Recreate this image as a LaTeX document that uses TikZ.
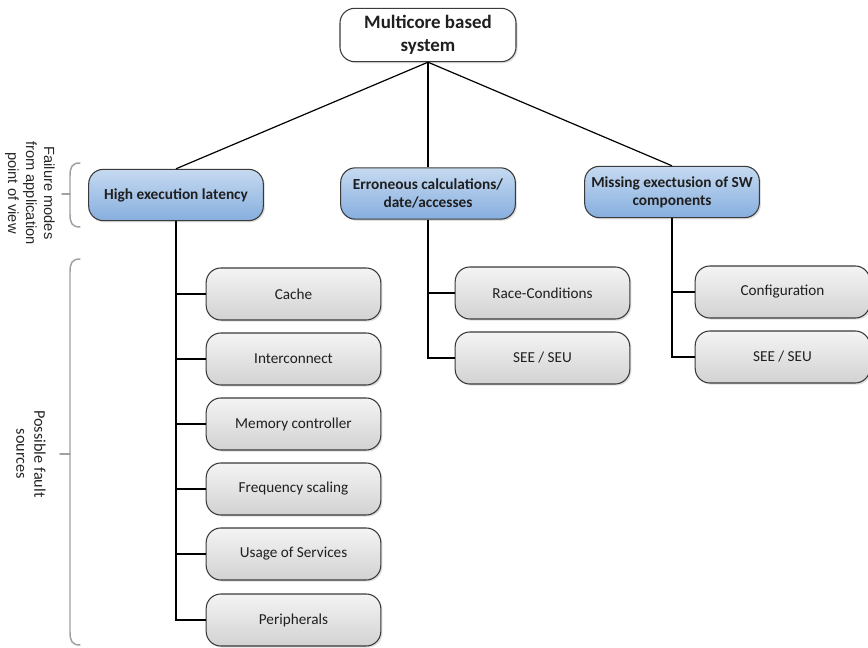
\documentclass[tikz,border=0pt]{standalone}
\usepackage{fontspec}
\setmainfont{Carlito}
\newfontfamily\sidefont{Liberation Sans}
\usetikzlibrary{shadows}
\definecolor{edgegray}{HTML}{3A3A3A}
\definecolor{bracegray}{HTML}{A0A0A0}
\definecolor{graytop}{HTML}{F4F4F4}
\definecolor{graybot}{HTML}{D2D2D2}
\definecolor{bluetop}{HTML}{C6DAF1}
\definecolor{bluebot}{HTML}{86AEDE}
\tikzset{
  box/.style={draw=edgegray, line width=0.8pt, rounded corners=11pt, align=center,
    inner sep=0pt, text=black!88, drop shadow={opacity=0.25, shadow xshift=1.2pt, shadow yshift=-1.2pt}},
  rootbox/.style={box, fill=white, minimum width=132pt, minimum height=40pt,
    font=\fontsize{14.2}{17.5}\selectfont\bfseries},
  modebox/.style={box, top color=bluetop, bottom color=bluebot, minimum width=131pt,
    minimum height=38.5pt, font=\fontsize{11.5}{13.5}\selectfont\bfseries},
  srcbox/.style={box, top color=graytop, bottom color=graybot, minimum width=131pt,
    minimum height=39pt, font=\fontsize{11.4}{13}\selectfont},
  link/.style={draw=black, line width=0.9pt},
  bracket/.style={draw=bracegray, line width=1.1pt, line cap=round},
  sidetext/.style={rotate=-90, align=center, text=black!85}
}
\begin{document}
\begin{tikzpicture}[x=0.75pt, y=-0.75pt]
\useasboundingbox (0,0) rectangle (868,648);

% root
\node[rootbox] (root) at (428,35) {Multicore based\\system};

% failure modes
\node[modebox] (lat) at (176,195) {High execution latency};
\node[modebox] (err) at (428,193.5) {Erroneous calculations/\\date/accesses};
\node[modebox] (mis) at (672,192) {Missing exectusion of SW\\components};

% fault sources
\node[srcbox] (cache) at (293.5,294) {Cache};
\node[srcbox] (icon)  at (293.5,359) {Interconnect};
\node[srcbox] (mem)   at (293.5,424) {Memory controller};
\node[srcbox] (freq)  at (293.5,489) {Frequency scaling};
\node[srcbox] (serv)  at (293.5,554) {Usage of Services};
\node[srcbox] (peri)  at (293.5,620) {Peripherals};

\node[srcbox] (race)  at (542.5,293) {Race-Conditions};
\node[srcbox] (see1)  at (542.5,358) {SEE / SEU};

\node[srcbox] (conf)  at (782.5,292) {Configuration};
\node[srcbox] (see2)  at (782.5,357) {SEE / SEU};

% root to failure modes
\draw[link] (root.south) -- (lat.north);
\draw[link] (root.south) -- (err.north);
\draw[link] (root.south) -- (mis.north);

% trees below each failure mode
\foreach \n in {cache,icon,mem,freq,serv,peri}
  \draw[link] (lat.south) |- (\n.west);
\foreach \n in {race,see1}
  \draw[link] (err.south) |- (\n.west);
\foreach \n in {conf,see2}
  \draw[link] (mis.south) |- (\n.west);

% side brackets
\coordinate (bTop) at (80,163);
\coordinate (bBot) at (80,227);
\coordinate (bTip) at (62,194);
\draw[bracket] (bTop) .. controls (72,163) and (70,167) .. (70,176) -- (70,214)
  .. controls (70,223) and (72,227) .. (bBot);
\draw[bracket] (bTip) -- (70,194);

\coordinate (cTop) at (80,259);
\coordinate (cBot) at (80,645);
\coordinate (cTip) at (60,454);
\draw[bracket] (cTop) .. controls (72,259) and (70,263) .. (70,272) -- (70,632)
  .. controls (70,641) and (72,645) .. (cBot);
\draw[bracket] (cTip) -- (70,454);

\node[sidetext, font=\sidefont\fontsize{11}{13.5}\selectfont] (fm) at (30,193)
  {Failure modes\\from application\\point of view};
\node[sidetext, font=\fontsize{12.2}{13.5}\selectfont] (pf) at (31,454)
  {Possible fault\\sources};
\end{tikzpicture}
\end{document}
